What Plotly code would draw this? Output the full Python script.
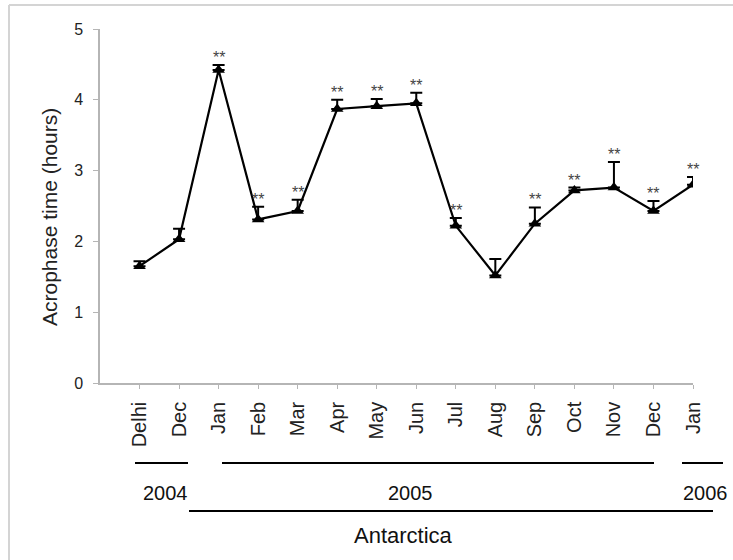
import plotly.graph_objects as go

months = ["Delhi", "Dec", "Jan", "Feb", "Mar", "Apr", "May", "Jun",
          "Jul", "Aug", "Sep", "Oct", "Nov", "Dec", "Jan"]
acrophase = [1.65, 2.03, 4.42, 2.31, 2.43, 3.87, 3.91, 3.95,
             2.22, 1.52, 2.25, 2.72, 2.76, 2.43, 2.80]
sem = [0.07, 0.15, 0.07, 0.18, 0.16, 0.13, 0.10, 0.15,
       0.11, 0.23, 0.23, 0.04, 0.36, 0.14, 0.11]
significant = [False, False, True, True, True, True, True, True,
               True, False, True, True, True, True, True]
year_labels = ["2004", "2005", "2006"]
site_label = "Antarctica"
y_title = "Acrophase time (hours)"

W, H = 733, 560
PX0, PX1, PY0, PY1 = 100, 693, 29, 383  # plot area in pixels

def px(x):
    return (x - PX0) / (PX1 - PX0)

def py(y):
    return (PY1 - y) / (PY1 - PY0)

xs = list(range(len(months)))
FONT = "Liberation Sans, Arial, sans-serif"

fig = go.Figure()
fig.add_trace(go.Scatter(
    x=xs, y=acrophase, mode="lines+markers",
    line=dict(color="black", width=2.2),
    marker=dict(symbol="triangle-up", size=11, color="black"),
    error_y=dict(type="data", array=sem, arrayminus=[0] * len(sem),
                 symmetric=False, color="black", thickness=2, width=6),
    showlegend=False, hoverinfo="skip",
))

annotations = []
for x, v, e, s in zip(xs, acrophase, sem, significant):
    if s:
        annotations.append(dict(x=x, y=v + e, xref="x", yref="y", text="**",
                                showarrow=False, yanchor="bottom", yshift=-3,
                                font=dict(family=FONT, size=16, color="#444")))

shapes = []
line_style = dict(color="black", width=2)
for x0, x1 in [(135, 188), (222, 654), (682, 723)]:
    shapes.append(dict(type="line", xref="paper", yref="paper",
                       x0=px(x0), x1=px(x1), y0=py(463), y1=py(463), line=line_style))
shapes.append(dict(type="line", xref="paper", yref="paper",
                   x0=px(189), x1=px(713), y0=py(511), y1=py(511), line=line_style))
frame = dict(color="#d4d4d4", width=2)
shapes.append(dict(type="line", xref="paper", yref="paper",
                   x0=px(9), x1=px(740), y0=py(5), y1=py(5), line=frame))
shapes.append(dict(type="line", xref="paper", yref="paper",
                   x0=px(9), x1=px(9), y0=py(5), y1=py(570), line=frame))

for txt, cx in zip(year_labels, [165, 410, 705]):
    annotations.append(dict(x=px(cx), y=py(493), xref="paper", yref="paper",
                            text=txt, showarrow=False, xanchor="center", yanchor="middle",
                            font=dict(family=FONT, size=20, color="#111")))
annotations.append(dict(x=px(403), y=py(535), xref="paper", yref="paper",
                        text=site_label, showarrow=False, xanchor="center", yanchor="middle",
                        font=dict(family=FONT, size=22, color="#111")))
annotations.append(dict(x=px(49), y=py(217), xref="paper", yref="paper",
                        text=y_title, showarrow=False, textangle=-90,
                        xanchor="center", yanchor="middle",
                        font=dict(family=FONT, size=21, color="#222")))

fig.update_layout(
    width=W, height=H,
    margin=dict(l=PX0, r=W - PX1, t=PY0, b=H - PY1, pad=0),
    paper_bgcolor="white", plot_bgcolor="white",
    font=dict(family=FONT, size=16, color="#222"),
    shapes=shapes, annotations=annotations,
    xaxis=dict(range=[-1, 14], tickvals=xs, ticktext=months, tickangle=-90,
               showline=True, linecolor="#b5b5b5", linewidth=1.5,
               ticks="outside", ticklen=4, tickcolor="#b5b5b5",
               ticklabelstandoff=5,
               showgrid=False, zeroline=False, fixedrange=True,
               tickfont=dict(family=FONT, size=20, color="#222")),
    yaxis=dict(range=[0, 5], tickvals=[0, 1, 2, 3, 4, 5],
               showline=True, linecolor="#b5b5b5", linewidth=1.5,
               ticks="outside", ticklen=5, tickcolor="#b5b5b5",
               ticklabelstandoff=7,
               showgrid=False, zeroline=False, fixedrange=True,
               tickfont=dict(family=FONT, size=16, color="#222")),
)

fig.write_html("out.html", config={"displayModeBar": False},
               post_script="document.body.style.margin='0px';document.body.style.overflow='hidden';")
